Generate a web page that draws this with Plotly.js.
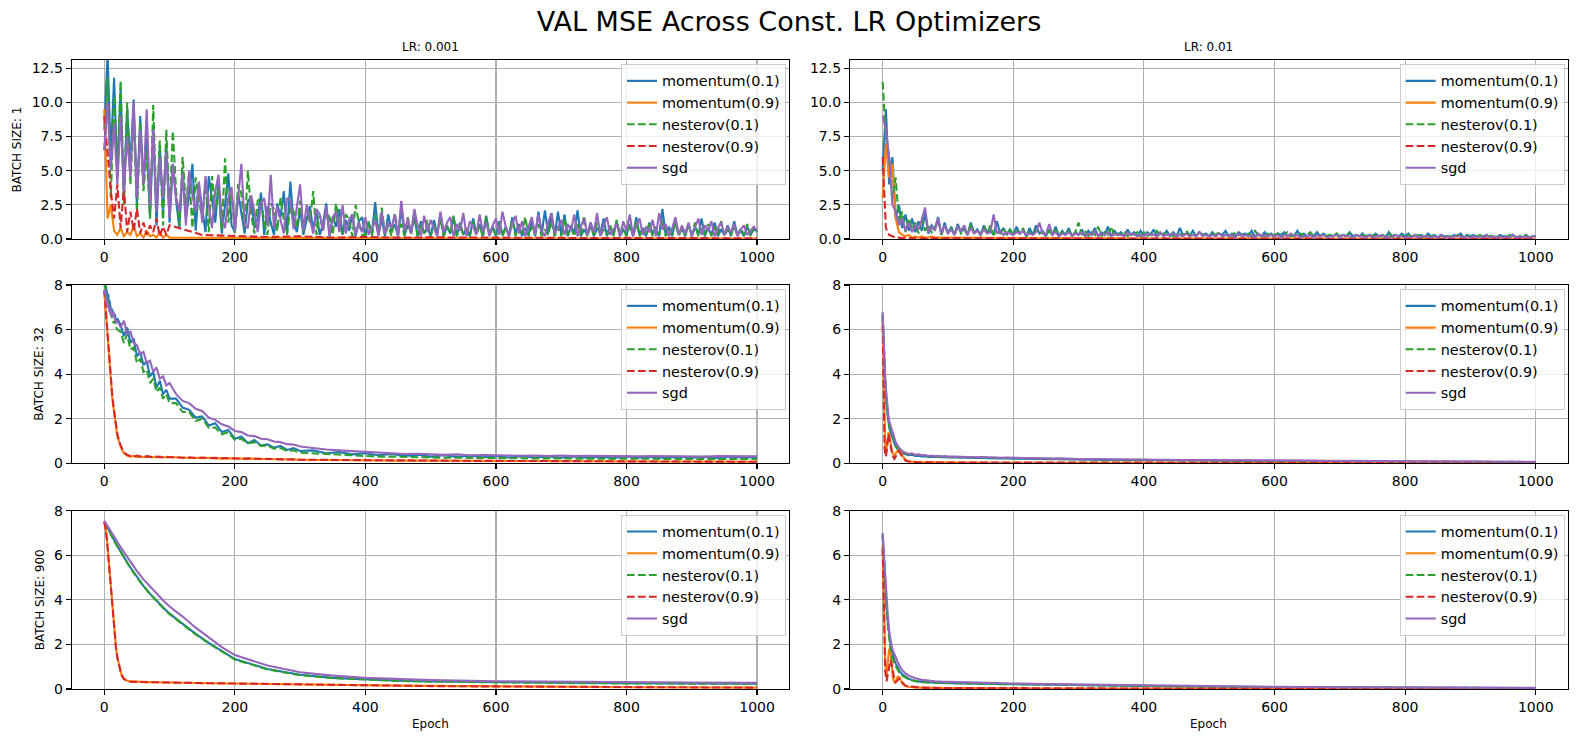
<!DOCTYPE html>
<html>
<head>
<meta charset="utf-8">
<script src="https://cdn.plot.ly/plotly-3.0.1.min.js"></script>
<style>
  html, body { margin: 0; padding: 0; background: #fff; }
  #chart { width: 1578px; height: 743px; }
</style>
</head>
<body>
<div id="chart"></div>
<script>
const epochsB1 = [0,5,10,15,20,25,30,35,40,45,50,55,60,65,70,75,80,85,90,95,
  100,105,110,115,120,125,130,135,140,145,150,155,160,165,170,175,180,185,190,195,
  200,205,210,215,220,225,230,235,240,245,250,255,260,265,270,275,280,285,290,295,
  300,305,310,315,320,325,330,335,340,345,350,355,360,365,370,375,380,385,390,395,
  400,405,410,415,420,425,430,435,440,445,450,455,460,465,470,475,480,485,490,495,
  500,505,510,515,520,525,530,535,540,545,550,555,560,565,570,575,580,585,590,595,
  600,605,610,615,620,625,630,635,640,645,650,655,660,665,670,675,680,685,690,695,
  700,705,710,715,720,725,730,735,740,745,750,755,760,765,770,775,780,785,790,795,
  800,805,810,815,820,825,830,835,840,845,850,855,860,865,870,875,880,885,890,895,
  900,905,910,915,920,925,930,935,940,945,950,955,960,965,970,975,980,985,990,995,1000];
const epochsB1Quiet = [0,5,10,15,20,25,30,35,40,45,50,55,60,65,70,75,80,85,90,95,100,
  150,200,250,300,350,400,450,500,550,600,650,700,750,800,850,900,950,1000];
const epochsB32 = [0,1,2,3,4,5,6,7,8,9,10,12,14,16,18,20,
  25,30,35,40,45,50,55,60,65,70,75,80,85,90,95,100,
  110,120,130,140,150,160,170,180,190,200,210,220,230,240,250,260,270,280,290,300,
  320,340,360,380,400,420,440,460,480,500,520,540,560,580,600,620,640,660,680,700,
  720,740,760,780,800,820,840,860,880,900,920,940,960,980,1000];
const epochsB900 = [0,2,4,6,8,10,12,14,16,18,20,23,26,30,35,40,45,50,60,70,80,90,100,
  120,140,160,180,200,250,300,350,400,450,500,600,700,800,900,1000];

const seriesNames = ['momentum(0.1)', 'momentum(0.9)', 'nesterov(0.1)', 'nesterov(0.9)', 'sgd'];
const seriesColors = ['#1f77b4', '#ff7f0e', '#2ca02c', '#d62728', '#9467bd'];
const seriesDashed = [false, false, true, true, false];
const lrLabels = ['LR: 0.001', 'LR: 0.01'];
const batchLabels = ['BATCH SIZE: 1', 'BATCH SIZE: 32', 'BATCH SIZE: 900'];

// batch 1, lr 0.001
const b1_lr0001_mom01 = [8.0,13.5,6.0,11.8,4.5,11.0,3.0,9.5,5.5,10.2,2.5,9.0,4.0,7.5,1.5,8.2,1.0,6.8,2.0,7.0,
  1.2,5.5,2.8,0.8,5.0,1.5,3.2,5.5,0.6,4.0,2.2,0.5,4.6,3.0,1.2,4.2,0.4,2.5,4.8,1.0,
  0.5,3.4,1.8,0.4,2.8,3.0,0.8,1.5,3.4,0.3,2.4,1.2,0.3,2.6,1.6,3.5,0.4,4.2,1.2,0.5,
  2.2,0.3,1.4,2.4,0.6,2.0,0.3,1.1,2.6,0.2,1.6,0.9,2.2,0.3,1.4,0.6,1.8,0.2,1.3,1.6,
  0.2,1.2,0.4,2.7,0.3,1.5,0.2,1.8,0.6,1.1,0.2,2.2,0.3,1.0,0.5,1.6,0.2,1.3,0.4,0.9,
  0.2,1.4,0.3,1.9,0.2,1.0,0.4,1.6,0.2,1.2,0.3,0.8,0.2,1.5,0.4,1.1,0.2,1.7,0.3,0.9,
  0.2,1.3,0.3,0.9,0.2,1.6,0.4,1.1,0.2,0.8,0.3,1.4,0.2,2.0,0.3,2.1,0.4,1.9,0.2,2.0,
  0.3,1.8,0.2,1.0,0.4,2.1,0.2,0.7,0.3,1.2,0.2,0.8,0.4,1.5,0.2,0.9,0.3,1.3,0.2,0.7,
  0.3,1.1,0.2,1.6,0.3,0.8,0.2,1.2,0.4,0.7,0.2,2.2,0.3,0.9,0.2,1.4,0.3,0.8,0.2,1.1,
  0.2,0.9,0.3,1.5,0.2,0.8,0.3,1.2,0.2,0.7,0.3,1.0,0.2,1.3,0.3,0.6,0.2,0.9,0.3,0.7,0.6];
const b1_lr0001_mom09 = [9.5,1.5,2.5,0.6,0.3,0.8,0.2,0.5,0.3,1.0,0.2,0.4,0.1,0.6,0.2,0.3,0.1,0.5,0.1,0.3,0.1,
  0.1,0.08,0.1,0.06,0.08,0.05,0.06,0.05,0.05,0.04,0.05,0.04,0.04,0.03,0.04,0.03,0.03,0.03];
const b1_lr0001_nes01 = [6.5,11.8,3.0,10.5,5.0,11.6,2.5,10.0,4.0,9.0,2.0,8.5,3.5,6.5,1.5,9.8,2.0,7.2,1.0,8.0,
  2.0,7.9,3.5,1.0,6.0,2.5,4.8,0.8,4.5,2.8,1.5,4.2,0.5,4.6,2.0,3.8,0.6,5.9,1.2,3.5,
  0.4,4.0,3.3,0.8,5.0,1.8,0.4,2.8,3.0,1.2,0.3,2.6,2.2,0.6,3.0,1.4,0.3,2.4,2.0,0.8,
  2.8,0.5,2.2,1.2,3.5,0.3,1.8,0.6,2.0,1.6,0.3,2.6,1.0,0.4,1.8,1.4,0.2,2.5,1.2,0.3,
  0.3,1.3,0.2,1.8,0.4,2.3,0.3,1.0,0.2,1.9,0.5,1.1,0.2,1.6,0.3,2.1,0.2,1.0,0.4,1.4,
  0.2,1.0,0.3,1.5,0.2,0.9,0.4,1.7,0.2,1.1,0.3,0.8,0.2,1.3,0.3,1.0,0.2,1.6,0.3,0.8,
  0.3,1.2,0.2,0.8,0.3,1.4,0.2,1.0,0.4,1.6,0.2,0.9,0.3,1.1,0.2,0.7,0.3,1.3,0.2,0.9,
  0.2,1.5,0.3,0.8,0.2,1.1,0.3,1.7,0.2,0.9,0.3,1.2,0.2,0.7,0.3,1.0,0.2,1.4,0.3,0.8,
  0.2,1.0,0.3,1.3,0.2,0.8,0.4,1.1,0.2,0.9,0.3,1.4,0.2,0.7,0.3,1.2,0.2,0.8,0.3,1.0,
  0.3,1.2,0.2,0.8,0.3,1.1,0.2,0.9,0.3,1.3,0.2,0.7,0.3,1.0,0.2,0.8,0.3,1.1,0.2,0.9,0.5];
const b1_lr0001_nes09 = [9.0,6.0,3.5,1.5,4.0,0.8,3.8,0.5,2.0,0.6,2.2,0.4,1.2,0.3,1.0,0.5,1.5,0.2,0.9,0.3,1.0,
  0.3,0.2,0.15,0.2,0.1,0.15,0.1,0.12,0.1,0.08,0.1,0.08,0.07,0.08,0.06,0.07,0.05,0.05];
const b1_lr0001_sgd = [6.5,10.0,5.0,8.5,4.0,9.0,3.5,7.5,4.5,10.0,3.0,8.0,4.0,9.5,2.5,8.0,2.0,6.0,3.0,6.3,
  1.5,5.5,3.0,2.0,4.8,1.0,5.0,3.2,2.0,4.2,1.2,4.6,2.5,0.8,3.5,4.7,1.5,0.8,3.0,3.8,
  0.6,2.8,5.5,1.0,0.8,3.2,2.0,0.5,2.6,3.0,1.0,4.7,0.8,2.4,1.5,0.4,3.0,2.8,0.7,2.2,
  4.0,0.6,2.5,1.5,0.4,2.2,1.8,0.6,2.4,0.3,1.6,2.0,0.5,2.5,0.4,1.4,1.8,0.3,1.2,0.5,
  1.6,0.3,0.9,1.4,0.2,2.0,0.4,1.2,0.8,1.8,0.2,2.8,0.6,1.5,0.4,2.2,1.0,0.2,1.7,0.5,
  1.4,0.8,0.2,2.0,0.5,1.2,1.6,0.2,1.1,0.6,1.9,0.2,1.3,0.9,0.3,1.8,0.5,1.2,0.2,1.0,
  1.5,0.3,2.0,0.9,0.2,1.1,1.7,0.4,1.3,0.2,0.9,1.6,0.3,1.8,0.6,0.2,1.2,1.9,0.4,0.8,
  1.4,0.3,1.1,0.6,1.8,0.2,0.9,1.5,0.3,1.2,0.5,1.9,0.2,1.0,1.6,0.3,0.7,1.1,0.2,1.3,
  0.6,1.8,0.2,1.0,1.5,0.3,0.9,0.5,1.4,0.2,1.9,0.7,1.1,0.2,0.8,1.6,0.3,1.0,0.4,1.2,
  0.2,0.9,1.5,0.3,1.0,0.6,1.3,0.2,0.8,1.2,0.3,0.9,0.5,1.1,0.2,0.7,1.0,0.3,0.6,0.9,0.6];

// batch 1, lr 0.01
const b1_lr001_mom01 = [5.0,9.5,4.0,6.0,1.5,2.5,0.8,1.8,0.6,1.5,0.5,1.3,0.6,1.9,0.4,1.0,0.7,1.6,0.3,1.2,
  0.4,0.9,0.3,1.1,0.5,0.8,0.3,1.2,0.4,0.7,0.3,1.0,0.5,0.6,0.3,1.3,0.4,0.8,0.3,0.7,
  0.3,0.9,0.4,0.6,0.2,0.8,0.3,1.0,0.4,0.6,0.2,0.7,0.3,0.9,0.2,0.6,0.3,0.8,0.2,0.5,
  0.3,0.7,0.2,0.6,0.3,0.8,0.2,0.5,0.3,0.9,0.2,0.6,0.3,0.5,0.2,0.7,0.3,0.5,0.2,0.6,
  0.2,0.5,0.3,0.7,0.2,0.4,0.3,0.6,0.2,0.5,0.2,0.8,0.3,0.4,0.2,0.6,0.2,0.5,0.3,0.4,
  0.2,0.5,0.2,0.4,0.3,0.6,0.2,0.4,0.2,0.5,0.3,0.4,0.2,0.6,0.2,0.3,0.2,0.5,0.2,0.4,
  0.2,0.4,0.3,0.5,0.2,0.3,0.2,0.6,0.2,0.4,0.2,0.3,0.2,0.5,0.2,0.4,0.2,0.3,0.2,0.4,
  0.2,0.3,0.2,0.5,0.2,0.3,0.2,0.4,0.1,0.3,0.2,0.4,0.2,0.3,0.1,0.5,0.2,0.3,0.2,0.4,
  0.2,0.4,0.1,0.3,0.2,0.3,0.1,0.4,0.2,0.3,0.1,0.3,0.2,0.2,0.1,0.3,0.2,0.4,0.1,0.3,
  0.2,0.3,0.1,0.2,0.2,0.3,0.1,0.2,0.1,0.3,0.2,0.2,0.1,0.3,0.1,0.2,0.1,0.3,0.1,0.2,0.2];
const b1_lr001_mom09 = [3.0,7.0,4.5,5.5,1.5,0.5,0.3,0.2,0.3,0.1,0.2,0.1,0.2,0.1,0.1,0.2,0.1,0.1,0.1,0.1,0.1,
  0.08,0.06,0.06,0.05,0.05,0.04,0.04,0.04,0.03,0.03,0.03,0.03,0.02,0.02,0.02,0.02,0.02,0.02];
const b1_lr001_nes01 = [11.5,7.5,6.0,3.0,4.5,1.2,2.0,0.5,1.5,0.7,1.2,0.4,1.6,0.6,1.0,0.5,0.8,1.4,0.3,0.9,
  0.5,0.8,0.3,1.0,0.4,0.7,0.3,1.1,0.5,0.6,0.3,0.9,0.4,1.0,0.3,0.6,0.4,0.8,0.3,0.7,
  0.3,0.6,0.4,0.8,0.2,0.5,0.3,0.7,0.4,0.5,0.2,0.6,0.3,0.7,0.2,0.5,0.3,0.6,0.2,0.5,
  1.2,0.3,0.6,0.2,0.5,0.3,0.9,0.2,0.5,0.3,0.9,0.2,0.4,0.3,0.6,0.2,0.4,0.3,0.5,0.2,
  0.5,0.2,0.4,0.3,0.6,0.2,0.4,0.3,0.5,0.2,0.3,0.4,0.2,0.6,0.3,0.4,0.2,0.5,0.3,0.3,
  0.2,0.4,0.3,0.5,0.2,0.3,0.4,0.2,0.5,0.3,0.3,0.2,0.4,0.2,0.6,0.3,0.3,0.2,0.4,0.2,
  0.3,0.4,0.2,0.3,0.5,0.2,0.3,0.2,0.4,0.2,0.3,0.5,0.2,0.3,0.2,0.4,0.2,0.3,0.2,0.4,
  0.2,0.3,0.2,0.4,0.1,0.3,0.2,0.3,0.2,0.4,0.2,0.3,0.1,0.3,0.2,0.4,0.2,0.3,0.1,0.3,
  0.2,0.3,0.2,0.2,0.3,0.1,0.3,0.2,0.2,0.3,0.1,0.2,0.3,0.2,0.2,0.1,0.3,0.2,0.2,0.3,
  0.1,0.2,0.2,0.3,0.1,0.2,0.2,0.3,0.1,0.2,0.2,0.1,0.3,0.2,0.1,0.2,0.2,0.3,0.1,0.2,0.2];
const b1_lr001_nes09 = [6.0,0.8,0.3,0.2,0.1,0.1,0.05,0.1,0.05,0.05,0.05,0.05,0.05,0.05,0.05,0.05,0.05,0.05,0.05,0.05,0.05,
  0.04,0.04,0.03,0.03,0.03,0.03,0.02,0.02,0.02,0.02,0.02,0.02,0.02,0.01,0.01,0.01,0.01,0.01];
const b1_lr001_sgd = [9.0,8.0,6.0,2.5,2.0,1.0,1.5,0.6,1.2,0.5,1.0,0.7,1.4,2.3,0.5,0.9,0.6,1.5,0.4,1.0,
  0.4,0.7,0.3,0.9,0.6,1.0,0.3,0.8,0.4,0.6,0.3,0.7,0.4,0.5,1.8,0.4,0.6,0.3,0.5,0.4,
  0.3,0.5,0.4,0.6,0.3,0.4,0.3,0.5,1.2,0.4,0.3,1.1,0.3,0.5,0.2,0.4,0.3,0.5,0.2,0.4,
  0.3,0.5,0.2,0.4,0.3,0.6,0.2,0.4,0.3,0.5,0.2,0.4,0.3,0.3,0.2,0.5,0.3,0.4,0.2,0.3,
  0.2,0.4,0.3,0.3,0.2,0.5,0.2,0.3,0.3,0.4,0.2,0.3,0.2,0.4,0.2,0.3,0.2,0.5,0.2,0.3,
  0.2,0.3,0.2,0.4,0.2,0.3,0.2,0.3,0.1,0.4,0.2,0.3,0.2,0.3,0.1,0.4,0.2,0.3,0.2,0.3,
  0.2,0.3,0.1,0.3,0.2,0.4,0.2,0.3,0.1,0.2,0.2,0.3,0.1,0.3,0.2,0.3,0.1,0.2,0.2,0.3,
  0.1,0.3,0.2,0.2,0.1,0.3,0.2,0.2,0.1,0.3,0.1,0.2,0.2,0.3,0.1,0.2,0.1,0.3,0.2,0.2,
  0.1,0.2,0.1,0.3,0.1,0.2,0.2,0.2,0.1,0.2,0.1,0.3,0.1,0.2,0.1,0.2,0.2,0.2,0.1,0.2,
  0.1,0.2,0.1,0.2,0.1,0.3,0.1,0.2,0.1,0.2,0.1,0.2,0.1,0.3,0.1,0.2,0.1,0.2,0.1,0.2,0.2];

// batch 32, lr 0.001
const b32_lr0001_mom01 = [8.1,8.4,8.0,7.8,7.7,7.5,7.6,7.2,7.3,7.0,6.9,6.9,6.6,6.7,6.4,6.5,
  6.2,5.7,6.1,5.4,5.6,4.8,5.0,4.4,4.6,3.9,4.1,3.4,3.7,3.1,3.3,2.9,
  2.9,2.5,2.4,2.05,2.1,1.7,1.8,1.4,1.5,1.1,1.2,0.9,1.05,0.8,0.85,0.7,0.78,0.6,0.68,0.55,
  0.58,0.45,0.5,0.4,0.45,0.36,0.42,0.33,0.38,0.3,0.36,0.29,0.34,0.27,0.33,0.26,0.32,0.26,
  0.31,0.25,0.31,0.25,0.3,0.24,0.31,0.25,0.3,0.24,0.3,0.25,0.29,0.24,0.3,0.25,0.29];
const b32_lr0001_mom09 = [7.7,7.3,7.1,6.7,6.3,5.9,5.4,4.9,4.4,4.0,3.6,3.0,2.5,2.0,1.6,1.2,
  0.75,0.45,0.35,0.3,0.33,0.28,0.31,0.27,0.3,0.28,0.29,0.26,0.3,0.27,0.26,0.28,
  0.26,0.27,0.24,0.25,0.23,0.25,0.22,0.23,0.21,0.23,0.21,0.2,0.21,0.19,0.19,0.18,0.18,0.17,0.17,0.16,
  0.15,0.15,0.14,0.14,0.13,0.13,0.13,0.12,0.12,0.12,0.11,0.11,0.11,0.1,0.1,0.1,0.1,0.1,
  0.09,0.09,0.09,0.09,0.09,0.08,0.08,0.08,0.08,0.08,0.08,0.07,0.07,0.07,0.07,0.07,0.07];
const b32_lr0001_nes01 = [7.9,8.0,7.7,7.6,7.4,7.2,7.3,7.0,6.9,6.8,6.6,6.5,6.3,6.4,6.1,6.0,
  5.9,5.4,5.8,5.1,5.2,4.5,4.7,4.1,4.2,3.6,3.8,3.2,3.4,2.9,3.1,2.7,
  2.7,2.3,2.3,1.9,2.0,1.6,1.6,1.3,1.4,1.05,1.1,0.9,0.95,0.78,0.8,0.66,0.68,0.56,0.58,0.48,
  0.45,0.42,0.38,0.35,0.33,0.3,0.3,0.28,0.27,0.26,0.25,0.25,0.24,0.24,0.23,0.23,0.22,0.22,
  0.22,0.21,0.22,0.21,0.21,0.2,0.21,0.2,0.2,0.2,0.2,0.19,0.2,0.19,0.19,0.19,0.19];
const b32_lr0001_nes09 = [7.8,7.4,7.0,6.8,6.4,6.0,5.5,5.0,4.5,4.1,3.7,3.1,2.6,2.1,1.7,1.3,
  0.8,0.5,0.38,0.32,0.3,0.35,0.3,0.28,0.32,0.3,0.27,0.3,0.28,0.26,0.29,0.27,
  0.28,0.25,0.27,0.24,0.26,0.23,0.25,0.22,0.24,0.22,0.2,0.22,0.2,0.19,0.2,0.18,0.19,0.17,0.18,0.16,
  0.16,0.15,0.15,0.14,0.14,0.13,0.13,0.13,0.12,0.12,0.12,0.11,0.11,0.11,0.1,0.1,0.1,0.1,
  0.1,0.09,0.09,0.09,0.09,0.09,0.08,0.08,0.08,0.08,0.08,0.08,0.07,0.07,0.07,0.07,0.07];
const b32_lr0001_sgd = [7.6,7.8,7.5,7.2,7.4,7.0,7.2,6.9,6.8,7.0,6.7,6.6,6.8,6.5,6.3,6.4,
  6.1,6.4,5.8,5.9,5.4,5.3,4.9,5.0,4.5,4.6,4.1,4.3,3.8,3.9,3.5,3.6,
  3.1,2.8,2.7,2.45,2.35,2.05,1.95,1.75,1.65,1.45,1.4,1.25,1.22,1.1,1.08,0.98,0.95,0.86,0.84,0.75,
  0.68,0.62,0.58,0.55,0.5,0.48,0.45,0.42,0.43,0.4,0.38,0.4,0.36,0.37,0.35,0.36,0.34,0.35,
  0.33,0.35,0.32,0.34,0.33,0.32,0.34,0.31,0.33,0.32,0.31,0.33,0.3,0.32,0.31,0.3,0.31];

// batch 32, lr 0.01
const b32_lr001_mom01 = [6.6,5.8,4.8,4.0,3.4,3.0,2.6,2.3,2.1,1.8,1.6,1.4,1.2,1.0,0.9,0.75,
  0.55,0.45,0.4,0.36,0.38,0.33,0.34,0.31,0.32,0.29,0.3,0.28,0.29,0.27,0.28,0.26,
  0.26,0.25,0.25,0.24,0.24,0.23,0.23,0.22,0.22,0.21,0.21,0.2,0.2,0.19,0.19,0.18,0.18,0.17,0.17,0.16,
  0.16,0.15,0.15,0.14,0.14,0.13,0.13,0.13,0.12,0.12,0.12,0.11,0.11,0.11,0.1,0.1,0.1,0.09,
  0.09,0.09,0.09,0.08,0.08,0.08,0.08,0.07,0.07,0.07,0.07,0.06,0.06,0.06,0.06,0.06,0.05];
const b32_lr001_mom09 = [6.5,4.8,2.6,1.2,0.7,0.5,0.6,0.9,1.3,1.4,1.3,0.9,0.6,0.4,0.35,0.45,
  0.65,0.35,0.15,0.08,0.06,0.05,0.05,0.05,0.04,0.04,0.04,0.04,0.04,0.03,0.03,0.03,
  0.03,0.03,0.03,0.03,0.03,0.03,0.03,0.03,0.03,0.03,0.02,0.02,0.02,0.02,0.02,0.02,0.02,0.02,0.02,0.02,
  0.02,0.02,0.02,0.02,0.02,0.02,0.02,0.02,0.02,0.02,0.02,0.02,0.02,0.02,0.02,0.01,0.01,0.01,
  0.01,0.01,0.01,0.01,0.01,0.01,0.01,0.01,0.01,0.01,0.01,0.01,0.01,0.01,0.01,0.01,0.01];
const b32_lr001_nes01 = [6.7,5.9,4.9,4.1,3.5,3.1,2.7,2.4,2.2,1.9,1.7,1.5,1.3,1.1,0.95,0.8,
  0.6,0.5,0.44,0.4,0.41,0.36,0.38,0.34,0.35,0.32,0.33,0.3,0.31,0.29,0.3,0.28,
  0.28,0.27,0.27,0.26,0.26,0.25,0.25,0.24,0.24,0.23,0.23,0.22,0.22,0.21,0.21,0.2,0.2,0.19,0.19,0.18,
  0.17,0.17,0.16,0.16,0.15,0.15,0.14,0.14,0.13,0.13,0.13,0.12,0.12,0.12,0.11,0.11,0.11,0.1,
  0.1,0.1,0.09,0.09,0.09,0.09,0.08,0.08,0.08,0.08,0.07,0.07,0.07,0.07,0.06,0.06,0.06];
const b32_lr001_nes09 = [6.2,4.0,1.8,0.7,0.35,0.3,0.5,0.9,1.2,1.3,1.2,0.8,0.5,0.3,0.2,0.3,
  0.55,0.3,0.12,0.08,0.06,0.05,0.05,0.04,0.04,0.04,0.04,0.03,0.03,0.03,0.03,0.03,
  0.03,0.03,0.03,0.03,0.03,0.02,0.02,0.02,0.02,0.02,0.02,0.02,0.02,0.02,0.02,0.02,0.02,0.02,0.02,0.02,
  0.02,0.02,0.02,0.02,0.02,0.02,0.02,0.02,0.02,0.02,0.01,0.01,0.01,0.01,0.01,0.01,0.01,0.01,
  0.01,0.01,0.01,0.01,0.01,0.01,0.01,0.01,0.01,0.01,0.01,0.01,0.01,0.01,0.01,0.01,0.01];
const b32_lr001_sgd = [6.8,6.2,5.2,4.4,3.7,3.3,2.9,2.6,2.4,2.1,1.9,1.7,1.5,1.3,1.1,0.95,
  0.7,0.55,0.48,0.42,0.45,0.38,0.4,0.36,0.37,0.33,0.35,0.32,0.33,0.3,0.32,0.3,
  0.3,0.28,0.29,0.27,0.28,0.26,0.27,0.25,0.26,0.24,0.25,0.23,0.24,0.22,0.23,0.21,0.22,0.2,0.21,0.19,
  0.19,0.18,0.18,0.17,0.17,0.16,0.16,0.15,0.15,0.15,0.14,0.14,0.13,0.13,0.13,0.12,0.12,0.12,
  0.11,0.11,0.11,0.1,0.1,0.1,0.09,0.09,0.09,0.08,0.08,0.08,0.08,0.07,0.07,0.07,0.07];

// batch 900, lr 0.001
const b900_lr0001_mom01 = [7.52,7.4,7.29,7.17,7.06,6.95,6.84,6.73,6.62,6.52,6.42,6.26,6.11,5.92,5.68,5.45,5.23,5.02,
  4.63,4.28,3.96,3.66,3.38,2.92,2.47,2.07,1.69,1.34,0.9,0.64,0.5,0.42,0.37,0.34,0.3,0.28,0.26,0.25,0.24];
const b900_lr0001_mom09 = [7.52,7.22,6.72,6.03,5.23,4.43,3.63,2.93,2.33,1.83,1.43,0.97,0.67,0.46,0.37,0.34,0.33,0.32,
  0.31,0.31,0.3,0.3,0.29,0.28,0.27,0.26,0.25,0.24,0.22,0.2,0.18,0.17,0.15,0.14,0.11,0.1,0.08,0.07,0.06];
const b900_lr0001_nes01 = [7.5,7.38,7.27,7.15,7.04,6.93,6.82,6.71,6.6,6.5,6.4,6.24,6.09,5.9,5.66,5.43,5.21,5.0,
  4.61,4.26,3.94,3.64,3.36,2.9,2.45,2.05,1.67,1.32,0.88,0.62,0.49,0.41,0.36,0.33,0.29,0.27,0.25,0.24,0.23];
const b900_lr0001_nes09 = [7.5,7.2,6.7,6.0,5.2,4.4,3.6,2.9,2.3,1.8,1.4,0.95,0.65,0.45,0.36,0.33,0.32,0.32,
  0.31,0.3,0.3,0.29,0.29,0.28,0.27,0.26,0.25,0.24,0.22,0.2,0.18,0.16,0.15,0.13,0.11,0.09,0.08,0.07,0.06];
const b900_lr0001_sgd = [7.55,7.45,7.36,7.26,7.16,7.07,6.97,6.88,6.78,6.69,6.6,6.46,6.32,6.14,5.92,5.7,5.49,5.29,
  4.92,4.6,4.28,3.98,3.7,3.25,2.75,2.3,1.88,1.52,1.05,0.75,0.6,0.5,0.44,0.4,0.35,0.32,0.3,0.29,0.28];

// batch 900, lr 0.01
const b900_lr001_mom01 = [6.9,5.7,4.6,3.7,3.0,2.4,2.0,1.7,1.45,1.3,1.15,0.95,0.8,0.66,0.54,0.46,0.4,0.36,
  0.32,0.3,0.28,0.27,0.26,0.25,0.24,0.23,0.22,0.21,0.19,0.17,0.15,0.13,0.12,0.1,0.08,0.07,0.06,0.05,0.04];
const b900_lr001_mom09 = [6.5,3.5,1.2,0.6,1.1,1.8,1.7,1.0,0.45,0.3,0.35,0.55,0.5,0.25,0.12,0.1,0.08,0.07,
  0.06,0.05,0.05,0.04,0.04,0.04,0.03,0.03,0.03,0.03,0.02,0.02,0.02,0.02,0.02,0.01,0.01,0.01,0.01,0.01,0.01];
const b900_lr001_nes01 = [6.9,5.6,4.4,3.5,2.8,2.2,1.8,1.5,1.3,1.15,1.02,0.85,0.72,0.6,0.5,0.43,0.38,0.35,
  0.31,0.29,0.28,0.27,0.26,0.25,0.24,0.23,0.22,0.21,0.19,0.17,0.15,0.13,0.12,0.1,0.08,0.07,0.06,0.05,0.04];
const b900_lr001_nes09 = [6.3,2.8,0.8,0.35,0.7,1.15,1.3,1.1,0.7,0.4,0.3,0.4,0.48,0.3,0.15,0.12,0.1,0.08,
  0.06,0.05,0.05,0.04,0.04,0.03,0.03,0.03,0.03,0.02,0.02,0.02,0.02,0.02,0.01,0.01,0.01,0.01,0.01,0.01,0.01];
const b900_lr001_sgd = [7.0,6.0,4.9,4.0,3.3,2.6,2.2,1.9,1.7,1.55,1.42,1.2,1.02,0.85,0.7,0.6,0.53,0.48,
  0.41,0.37,0.35,0.33,0.32,0.3,0.29,0.27,0.26,0.25,0.22,0.2,0.18,0.15,0.14,0.12,0.1,0.08,0.07,0.06,0.05];

// one entry per panel, row-major (row = batch size, col = lr)
const panels = [
  {x: [epochsB1, epochsB1Quiet, epochsB1, epochsB1Quiet, epochsB1],
   y: [b1_lr0001_mom01, b1_lr0001_mom09, b1_lr0001_nes01, b1_lr0001_nes09, b1_lr0001_sgd]},
  {x: [epochsB1, epochsB1Quiet, epochsB1, epochsB1Quiet, epochsB1],
   y: [b1_lr001_mom01, b1_lr001_mom09, b1_lr001_nes01, b1_lr001_nes09, b1_lr001_sgd]},
  {x: [epochsB32, epochsB32, epochsB32, epochsB32, epochsB32],
   y: [b32_lr0001_mom01, b32_lr0001_mom09, b32_lr0001_nes01, b32_lr0001_nes09, b32_lr0001_sgd]},
  {x: [epochsB32, epochsB32, epochsB32, epochsB32, epochsB32],
   y: [b32_lr001_mom01, b32_lr001_mom09, b32_lr001_nes01, b32_lr001_nes09, b32_lr001_sgd]},
  {x: [epochsB900, epochsB900, epochsB900, epochsB900, epochsB900],
   y: [b900_lr0001_mom01, b900_lr0001_mom09, b900_lr0001_nes01, b900_lr0001_nes09, b900_lr0001_sgd]},
  {x: [epochsB900, epochsB900, epochsB900, epochsB900, epochsB900],
   y: [b900_lr001_mom01, b900_lr001_mom09, b900_lr001_nes01, b900_lr001_nes09, b900_lr001_sgd]}
];

// layout geometry (paper fractions, measured off the 1578x743 reference)
const W = 1578, H = 743;
const colDomains = [[71.7 / W, 789 / W], [850 / W, 1567.7 / W]];
const rowPx = [[60, 239], [285, 463.3], [510.7, 689]];
const rowDomains = rowPx.map(r => [1 - r[1] / H, 1 - r[0] / H]);
const yRanges = [[0, 13.1], [0, 8], [0, 8]];
const yDticks = [2.5, 2, 2];
const FONT = 'DejaVu Sans, Verdana, sans-serif';

const axisCommon = {
  showline: true, mirror: true, linecolor: '#000', linewidth: 1.1,
  ticks: 'outside', ticklen: 5, tickwidth: 1.1, tickcolor: '#000',
  showgrid: true, gridcolor: '#b0b0b0', gridwidth: 1.1,
  zeroline: false, fixedrange: true,
  tickfont: {family: FONT, size: 14, color: '#000'}
};

let traces = [];
let layout = {
  width: W, height: H,
  margin: {l: 0, r: 0, t: 0, b: 0},
  paper_bgcolor: '#fff', plot_bgcolor: '#fff',
  font: {family: FONT, color: '#000'},
  hovermode: false,
  title: {text: 'VAL MSE Across Const. LR Optimizers', x: 0.5, xanchor: 'center',
          y: 1 - 22 / H, yanchor: 'middle', yref: 'paper',
          font: {family: FONT, size: 27, color: '#000'}},
  annotations: []
};

panels.forEach(function (p, i) {
  let row = Math.floor(i / 2), col = i % 2;
  let n = i + 1;
  let xName = n === 1 ? 'xaxis' : 'xaxis' + n;
  let yName = n === 1 ? 'yaxis' : 'yaxis' + n;
  let legName = n === 1 ? 'legend' : 'legend' + n;
  let xRef = n === 1 ? 'x' : 'x' + n;
  let yRef = n === 1 ? 'y' : 'y' + n;

  p.y.forEach(function (vals, s) {
    traces.push({
      type: 'scatter', mode: 'lines',
      x: p.x[s], y: vals,
      name: seriesNames[s],
      xaxis: xRef, yaxis: yRef,
      legend: legName,
      line: {color: seriesColors[s], width: 2.1, dash: seriesDashed[s] ? '7.7px,3.3px' : 'solid'}
    });
  });

  layout[xName] = Object.assign({}, axisCommon, {
    domain: colDomains[col], anchor: yRef,
    range: [-49.95, 1048.95], tick0: 0, dtick: 200
  });
  layout[yName] = Object.assign({}, axisCommon, {
    domain: rowDomains[row], anchor: xRef,
    range: yRanges[row], tick0: 0, dtick: yDticks[row],
    tickformat: row === 0 ? '.1f' : 'd'
  });
  layout[legName] = {
    x: colDomains[col][1] - 3 / W, y: rowDomains[row][1] - 4 / H,
    xanchor: 'right', yanchor: 'top', xref: 'paper', yref: 'paper',
    bgcolor: 'rgba(255,255,255,0.8)', bordercolor: '#cccccc', borderwidth: 1,
    font: {family: FONT, size: 14.4, color: '#000'},
    itemwidth: 30, tracegroupgap: 0,
    entrywidth: 135, entrywidthmode: 'pixels'
  };
});

// column titles and x labels
lrLabels.forEach(function (t, c) {
  layout.annotations.push({
    text: t, xref: 'paper', yref: 'paper', showarrow: false,
    x: (colDomains[c][0] + colDomains[c][1]) / 2, y: 1 - 47 / H,
    xanchor: 'center', yanchor: 'middle',
    font: {family: FONT, size: 12, color: '#000'}
  });
  layout.annotations.push({
    text: 'Epoch', xref: 'paper', yref: 'paper', showarrow: false,
    x: (colDomains[c][0] + colDomains[c][1]) / 2, y: 1 - 724 / H,
    xanchor: 'center', yanchor: 'middle',
    font: {family: FONT, size: 12, color: '#000'}
  });
});

// row titles
const rowTitleX = [16, 39.5, 39.5];
batchLabels.forEach(function (t, r) {
  layout.annotations.push({
    text: t, xref: 'paper', yref: 'paper', showarrow: false, textangle: -90,
    x: rowTitleX[r] / W, y: (rowDomains[r][0] + rowDomains[r][1]) / 2,
    xanchor: 'center', yanchor: 'middle',
    font: {family: FONT, size: 12, color: '#000'}
  });
});

Plotly.newPlot('chart', traces, layout, {staticPlot: true, displayModeBar: false});
</script>
</body>
</html>
